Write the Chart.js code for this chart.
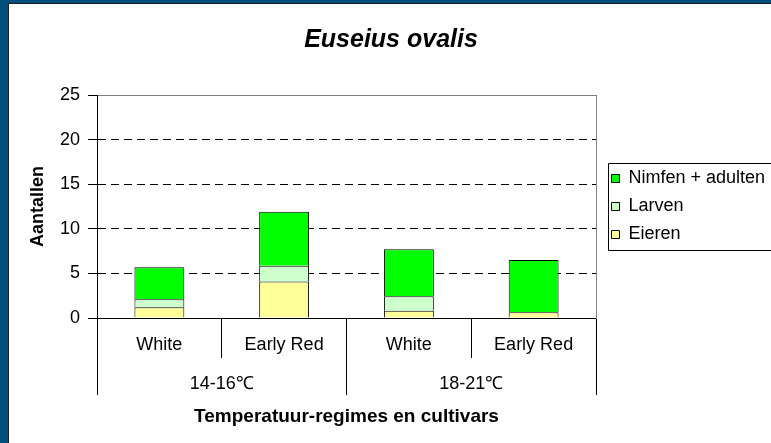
<!DOCTYPE html>
<html>
<head>
<meta charset="utf-8">
<script src="https://cdn.jsdelivr.net/npm/chart.js@4"></script>
<style>
body { margin: 0; width: 771px; height: 443px; overflow: hidden; background: #004e7c; }
#frame { position: absolute; left: 8px; top: 3px; width: 800px; height: 480px; background: #fff; border-left: 1px solid #1e1e1e; border-top: 1px solid #1e1e1e; }
#chart { position: absolute; left: 9px; top: 4px; }
</style>
</head>
<body>
<div id="frame"></div>
<canvas id="chart" width="764" height="439"></canvas>
<script>
const cultivars = ["White", "Early Red", "White", "Early Red"];
const regimes = ["14-16℃", "18-21℃"];
const eieren = [1.2, 4.1, 0.8, 0.65];
const larven = [0.9, 1.75, 1.65, 0];
const nimfen = [3.6, 6.05, 5.25, 5.85];
const yMax = 25;
const yStep = 5;

Chart.defaults.font.family = "'Liberation Sans', Arial, sans-serif";
Chart.defaults.font.size = 18;
Chart.defaults.color = "#000";

// box round the legend, like the old Excel one (its right side is off the page)
const legendBox = {
    id: "legendBox",
    afterDraw(chart) {
        var boxes = chart.legend.legendHitBoxes;
        if (!boxes || !boxes.length) return;
        var first = boxes[0];
        var last = boxes[boxes.length - 1];
        var ctx = chart.ctx;
        var left = Math.round(chart.chartArea.right + 12) + 0.5;
        var top = Math.round(first.top - 7) + 0.5;
        var bottom = Math.round(last.top + last.height + 6) + 0.5;
        ctx.save();
        ctx.strokeStyle = "#000";
        ctx.lineWidth = 1;
        ctx.beginPath();
        ctx.moveTo(chart.width, top);
        ctx.lineTo(left, top);
        ctx.lineTo(left, bottom);
        ctx.lineTo(chart.width, bottom);
        ctx.stroke();
        ctx.restore();
    }
};

function makeSet(label, data, colour) {
    return {
        label: label,
        data: data,
        backgroundColor: colour,
        borderColor: "#000",
        borderWidth: 1,
        barPercentage: 0.5,
        categoryPercentage: 0.8
    };
}

new Chart(document.getElementById("chart"), {
    type: "bar",
    data: {
        labels: cultivars,
        datasets: [
            makeSet("Eieren", eieren, "#ffff99"),
            makeSet("Larven", larven, "#ccffcc"),
            makeSet("Nimfen + adulten", nimfen, "#00ff00")
        ]
    },
    options: {
        responsive: false,
        animation: false,
        devicePixelRatio: 1,
        layout: { padding: 0 },
        plugins: {
            tooltip: { enabled: false },
            title: {
                display: true,
                text: "Euseius ovalis",
                color: "#000",
                font: { size: 25, weight: "bold", style: "italic" },
                padding: { top: 21, bottom: 40 }
            },
            legend: {
                position: "right",
                align: "center",
                reverse: true,
                fullSize: false,
                maxWidth: 171.5,
                labels: { boxWidth: 8, boxHeight: 8, padding: 10, color: "#000", font: { size: 18 } }
            }
        },
        scales: {
            x: {
                stacked: true,
                offset: true,
                grid: { offset: true, drawOnChartArea: false, tickLength: 40, tickColor: "#000" },
                border: { color: "#000" },
                ticks: { padding: -23.8, autoSkip: false, maxRotation: 0 },
                afterFit: function (s) { s.height = 40; }
            },
            x2: {
                type: "category",
                labels: regimes,
                position: "bottom",
                weight: 1,
                offset: true,
                grid: { offset: true, drawOnChartArea: false, tickLength: 37, tickColor: "#000" },
                border: { display: false },
                ticks: { padding: -21.8, autoSkip: false, maxRotation: 0 },
                title: {
                    display: true,
                    text: "Temperatuur-regimes en cultivars",
                    font: { size: 19, weight: "bold" },
                    padding: { top: 0, bottom: 14.9 }
                },
                afterFit: function (s) { s.height = 85; }
            },
            xT: {
                type: "category",
                labels: cultivars,
                position: "top",
                grid: { display: false },
                ticks: { display: false },
                border: { color: "#808080" },
                afterFit: function (s) { s.height = 0; }
            },
            y: {
                stacked: true,
                min: 0,
                max: yMax,
                ticks: { stepSize: yStep, padding: 8 },
                grid: {
                    color: function (c) {
                        var v = c.tick ? c.tick.value : 0;
                        return (v === 0 || v === yMax) ? "rgba(0,0,0,0)" : "#000";
                    },
                    tickColor: "#000",
                    tickLength: 9
                },
                border: { color: "#000", dash: [8, 5] },
                title: {
                    display: true,
                    text: "Aantallen",
                    font: { size: 18, weight: "bold" },
                    padding: { top: 18.2, bottom: 0 }
                },
                afterFit: function (s) { s.width = 88; }
            },
            yR: {
                position: "right",
                grid: { display: false },
                ticks: { display: false },
                border: { color: "#808080" },
                afterFit: function (s) { s.width = 5.5; }
            }
        }
    },
    plugins: [legendBox]
});
</script>
</body>
</html>
